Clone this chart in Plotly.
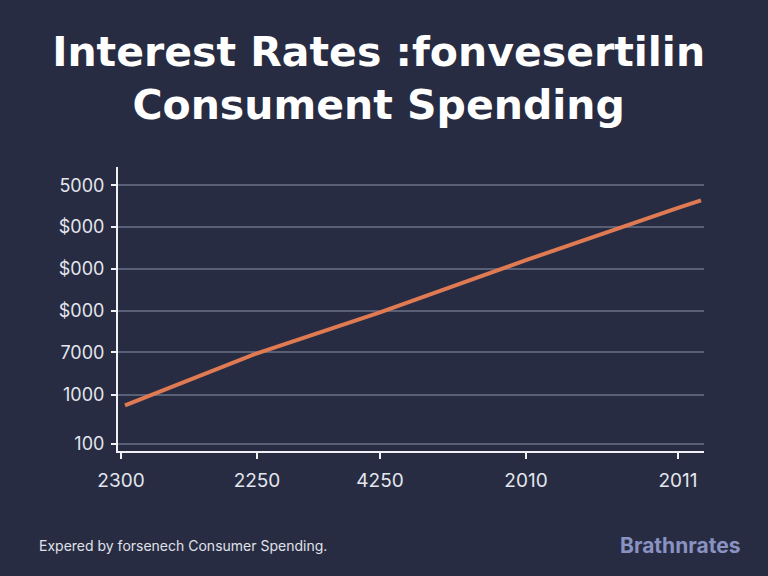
import plotly.graph_objects as go

# --- data (positions in axis units) ---
x_tick_pos = [0.03, 1.39, 2.62, 4.08, 5.60]
x_tick_labels = ["2300", "2250", "4250", "2010", "2011"]
y_tick_pos = [0.0, 1.17, 2.19, 3.19, 4.19, 5.19, 6.19]
y_tick_labels = ["100", "1000", "7000", "$000", "$000", "$000", "5000"]

line_x = [0.07, 1.39, 2.62, 4.08, 5.60, 5.83]
line_y = [0.92, 2.17, 3.15, 4.40, 5.65, 5.83]

BG = "#272c42"
FONT = "Inter"

fig = go.Figure()
fig.add_trace(go.Scatter(
    x=line_x, y=line_y, mode="lines",
    line=dict(color="#e07a52", width=4),
    hoverinfo="skip", showlegend=False,
))

fig.update_layout(
    width=768, height=576,
    paper_bgcolor=BG, plot_bgcolor=BG,
    margin=dict(l=118, r=64, t=167, b=125),
    title=dict(
        text="<b>Interest Rates :fonvesertilin<br>Consument Spending</b>",
        x=0.493, xanchor="center", y=1 - 66/576, yanchor="middle",
        font=dict(family="DejaVu Sans", size=41, color="#ffffff"),
    ),
    xaxis=dict(
        range=[0, 5.86], tickmode="array", tickvals=x_tick_pos, ticktext=x_tick_labels,
        showgrid=False, zeroline=False, showline=True, linecolor="#f0f0f4", linewidth=2,
        ticks="outside", ticklen=6, tickwidth=2, tickcolor="#f0f0f4",
        ticklabelstandoff=5,
        tickfont=dict(family=FONT, size=19, color="#e4e6ee"),
    ),
    yaxis=dict(
        range=[-0.17, 6.63], tickmode="array", tickvals=y_tick_pos, ticktext=y_tick_labels,
        showgrid=True, gridcolor="#596075", gridwidth=1.5, zeroline=False,
        showline=True, linecolor="#f0f0f4", linewidth=2,
        ticks="outside", ticklen=5, tickwidth=2, tickcolor="#f0f0f4",
        ticklabelstandoff=3,
        tickfont=dict(family=FONT, size=18, color="#e4e6ee"),
    ),
)

fig.add_annotation(
    text="Expered by forsenech Consumer Spending.", xref="paper", yref="paper",
    x=-118/586, xanchor="left", y=-95/285, yanchor="middle",
    xshift=37, showarrow=False,
    font=dict(family=FONT, size=14, color="#e0e2ea"),
)
fig.add_annotation(
    text="<b>Brathnrates</b>", xref="paper", yref="paper",
    x=1 + 64/586, xanchor="right", y=-95/285, yanchor="middle",
    xshift=-26, showarrow=False,
    font=dict(family=FONT, size=21, color="#8a92c2"),
)

fig.write_html("out.html")
